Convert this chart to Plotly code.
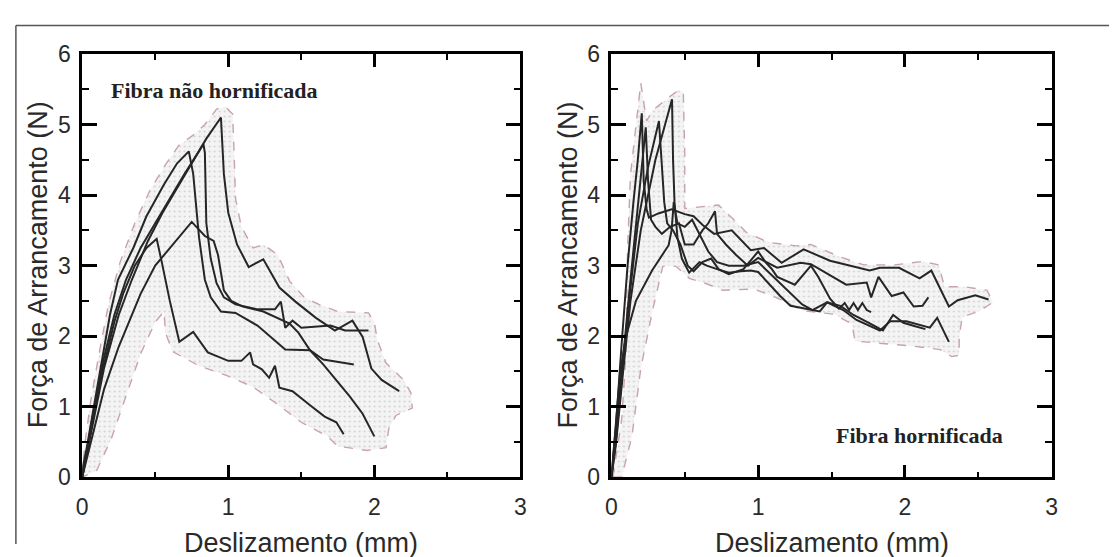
import plotly.graph_objects as go

W, H = 1115, 557

# ---------------- Left panel: Fibra não hornificada ----------------
L1_x = [0, 0.03, 0.08, 0.14, 0.19, 0.245, 0.35, 0.44, 0.56, 0.65, 0.73, 0.76, 0.80, 0.84, 0.88, 0.95, 1.05, 1.2, 1.31, 1.39, 1.56, 1.65, 1.86]
L1_y = [0.1, 0.4, 1.0, 1.7, 2.3, 2.8, 3.25, 3.7, 4.15, 4.45, 4.62, 4.3, 3.4, 2.8, 2.55, 2.35, 2.33, 2.15, 1.95, 1.81, 1.8, 1.67, 1.6]

L2_x = [0, 0.03, 0.08, 0.15, 0.22, 0.3, 0.4, 0.5, 0.6, 0.7, 0.83, 0.84, 0.85, 0.88, 0.92, 0.97, 1.05, 1.2, 1.32, 1.36, 1.39, 1.44, 1.5, 1.7, 1.8, 1.96]
L2_y = [0, 0.35, 0.95, 1.7, 2.3, 2.8, 3.25, 3.6, 3.95, 4.3, 4.72, 4.6, 3.6, 3.1, 2.75, 2.55, 2.45, 2.38, 2.38, 2.49, 2.12, 2.22, 2.12, 2.15, 2.08, 2.08]

L3_x = [0, 0.03, 0.08, 0.15, 0.25, 0.34, 0.45, 0.55, 0.65, 0.75, 0.85, 0.95, 0.97, 1.0, 1.06, 1.14, 1.24, 1.35, 1.46, 1.6, 1.73, 1.85, 1.92, 1.98, 2.05, 2.17]
L3_y = [0, 0.3, 0.85, 1.55, 2.3, 2.8, 3.35, 3.75, 4.1, 4.45, 4.8, 5.1, 4.3, 3.75, 3.3, 2.98, 3.09, 2.69, 2.49, 2.26, 2.08, 2.22, 1.99, 1.54, 1.38, 1.22]

L4_x = [0, 0.03, 0.08, 0.15, 0.25, 0.3, 0.4, 0.5, 0.6, 0.75, 0.84, 0.9, 0.93, 0.97, 1.02, 1.1, 1.24, 1.35, 1.42, 1.48, 1.56, 1.65, 1.72, 1.83, 1.92, 2.0]
L4_y = [0, 0.25, 0.7, 1.25, 1.85, 2.1, 2.6, 3.0, 3.25, 3.62, 3.42, 3.35, 3.15, 2.65, 2.5, 2.42, 2.35, 2.25, 2.18, 2.05, 1.8, 1.6, 1.42, 1.15, 0.9, 0.58]

L5_x = [0, 0.03, 0.08, 0.15, 0.22, 0.28, 0.36, 0.44, 0.51, 0.545, 0.6, 0.665, 0.76, 0.86, 1.0, 1.09, 1.15, 1.17, 1.23, 1.28, 1.32, 1.35, 1.44, 1.56, 1.66, 1.74, 1.79]
L5_y = [0, 0.35, 0.9, 1.6, 2.2, 2.6, 3.0, 3.25, 3.38, 3.05, 2.5, 1.92, 2.06, 1.77, 1.65, 1.65, 1.77, 1.6, 1.53, 1.41, 1.58, 1.27, 1.22, 1.02, 0.86, 0.78, 0.61]

L_env_x = [0.0, 0.0, 0.02, 0.06, 0.12, 0.18, 0.26, 0.36, 0.46, 0.56, 0.66, 0.76, 0.84, 0.92, 0.98, 1.03, 1.04, 1.05, 1.09, 1.17, 1.24, 1.34, 1.42, 1.52, 1.62, 1.75, 1.96, 2.0, 2.02, 2.08, 2.2, 2.25, 2.26, 2.15, 2.1, 2.08, 1.95, 1.75, 1.68, 1.5, 1.32, 1.17, 0.98, 0.8, 0.62, 0.57, 0.56, 0.5, 0.4, 0.3, 0.2, 0.1, 0.0]
L_env_y = [0.0, 0.05, 0.5, 1.1, 1.8, 2.45, 3.05, 3.6, 4.05, 4.4, 4.7, 4.85, 5.0, 5.22, 5.25, 5.15, 4.6, 3.95, 3.55, 3.25, 3.3, 3.15, 2.78, 2.55, 2.45, 2.35, 2.33, 2.2, 1.95, 1.62, 1.38, 1.2, 0.98, 0.88, 0.7, 0.42, 0.38, 0.44, 0.58, 0.78, 1.06, 1.28, 1.45, 1.58, 1.78, 2.05, 2.35, 2.2, 1.75, 1.15, 0.55, 0.1, 0.0]

# ---------------- Right panel: Fibra hornificada ----------------
R1_x = [0, 0.03, 0.07, 0.11, 0.15, 0.18, 0.207, 0.22, 0.24, 0.256, 0.32, 0.41, 0.5, 0.56, 0.62, 0.7, 0.82, 0.95, 1.04, 1.16, 1.31, 1.49, 1.76, 1.83, 1.96, 2.1, 2.18, 2.3, 2.36, 2.48, 2.57]
R1_y = [0, 0.7, 1.9, 3.0, 3.9, 4.5, 5.16, 4.2, 3.8, 3.68, 3.74, 3.8, 3.73, 3.7, 3.58, 3.45, 3.5, 3.22, 3.25, 3.04, 3.23, 3.07, 2.93, 2.97, 2.97, 2.82, 2.93, 2.42, 2.51, 2.58, 2.52]

R2_x = [0, 0.03, 0.08, 0.13, 0.18, 0.234, 0.25, 0.27, 0.3, 0.344, 0.4, 0.46, 0.5, 0.56, 0.62, 0.66, 0.706, 0.72, 0.78, 0.85, 0.93, 1.0, 1.13, 1.29, 1.36, 1.52, 1.6, 1.74, 1.77, 1.82, 1.91, 1.99, 2.06, 2.12, 2.16]
R2_y = [0, 0.6, 1.7, 2.8, 3.8, 4.96, 4.2, 3.65, 3.55, 3.45, 3.55, 3.6, 3.3, 3.3, 3.5, 3.6, 3.77, 3.45, 3.3, 3.15, 3.0, 3.11, 2.97, 3.04, 3.02, 2.82, 2.73, 2.76, 2.55, 2.84, 2.57, 2.62, 2.42, 2.43, 2.55]

R3_x = [0, 0.03, 0.07, 0.12, 0.18, 0.25, 0.324, 0.34, 0.36, 0.38, 0.42, 0.47, 0.52, 0.56, 0.62, 0.68, 0.73, 0.8, 0.9, 1.0, 1.05, 1.09, 1.13, 1.25, 1.36, 1.41, 1.49, 1.55, 1.59, 1.62, 1.65, 1.68, 1.71, 1.74, 1.77]
R3_y = [0, 0.5, 1.4, 2.5, 3.6, 4.4, 5.05, 4.5, 3.9, 3.6, 3.5, 3.3, 3.0, 2.92, 3.05, 3.1, 2.95, 2.88, 2.95, 3.2, 3.05, 2.96, 2.84, 2.73, 3.0, 2.84, 2.53, 2.39, 2.47, 2.37, 2.47, 2.37, 2.47, 2.37, 2.34]

R4_x = [0, 0.03, 0.08, 0.13, 0.2, 0.3, 0.413, 0.42, 0.43, 0.45, 0.48, 0.53, 0.6, 0.65, 0.72, 0.8, 0.88, 0.95, 1.0, 1.09, 1.15, 1.22, 1.31, 1.42, 1.47, 1.58, 1.67, 1.83, 1.9, 2.01, 2.17, 2.22, 2.3]
R4_y = [0, 0.45, 1.5, 2.5, 3.5, 4.5, 5.36, 4.5, 3.9, 3.4, 3.1, 2.9, 3.05, 3.0, 2.95, 2.9, 2.92, 2.93, 2.91, 2.71, 2.57, 2.43, 2.39, 2.35, 2.48, 2.37, 2.23, 2.08, 2.21, 2.21, 2.12, 2.26, 1.92]

R5_x = [0, 0.03, 0.06, 0.1, 0.167, 0.277, 0.39, 0.41, 0.425, 0.45, 0.5, 0.55, 0.6, 0.66, 0.72, 0.8, 0.9, 1.0, 1.1, 1.2, 1.3, 1.37, 1.47, 1.56, 1.65, 1.79, 1.85, 1.92, 1.99, 2.07, 2.14]
R5_y = [0, 0.8, 1.5, 2.0, 2.5, 2.93, 3.29, 3.5, 3.9, 3.6, 3.55, 3.65, 3.45, 3.2, 3.05, 3.0, 3.0, 3.05, 2.85, 2.65, 2.45, 2.37, 2.48, 2.43, 2.3, 2.15, 2.08, 2.3, 2.19, 2.14, 2.1]

R_env_x = [0.01, 0.07, 0.1, 0.11, 0.13, 0.19, 0.2, 0.24, 0.28, 0.4, 0.46, 0.49, 0.5, 0.5, 0.61, 0.73, 0.83, 0.92, 1.07, 1.26, 1.36, 1.55, 1.72, 1.93, 2.12, 2.23, 2.27, 2.41, 2.56, 2.6, 2.51, 2.39, 2.37, 2.37, 2.32, 2.24, 2.05, 1.79, 1.66, 1.64, 1.52, 1.31, 1.12, 0.97, 0.76, 0.64, 0.53, 0.44, 0.35, 0.28, 0.2, 0.14, 0.07, 0.01]
R_env_y = [0.0, 0.82, 1.78, 3.23, 4.29, 5.49, 5.59, 5.05, 5.2, 5.4, 5.49, 5.45, 4.58, 3.81, 3.83, 3.86, 3.66, 3.47, 3.33, 3.28, 3.3, 3.13, 3.01, 3.01, 3.06, 3.01, 2.7, 2.7, 2.65, 2.48, 2.36, 2.27, 1.98, 1.73, 1.71, 1.81, 1.86, 1.9, 1.93, 2.17, 2.31, 2.36, 2.55, 2.67, 2.65, 2.75, 2.82, 2.99, 2.99, 2.36, 1.54, 0.58, 0.0, 0.0]

x_ticks = [0, 1, 2, 3]
y_ticks = [0, 1, 2, 3, 4, 5, 6]
x_title = "Deslizamento (mm)"
y_title = "Força de Arrancamento (N)"
label_left = "Fibra não hornificada"
label_right = "Fibra hornificada"

fig = go.Figure()

line_style = dict(color="#262626", width=2)
env_style = dict(color="#c8a4a8", width=1.4, dash="dash")
pattern = dict(shape=".", bgcolor="#f4f4f4", fgcolor="#b0b0b0", size=5, solidity=0.15)

fig.add_trace(go.Scatter(x=L_env_x, y=L_env_y, mode="lines", fill="toself",
                         fillcolor="#f4f4f4", fillpattern=pattern, line=env_style,
                         xaxis="x", yaxis="y", showlegend=False, hoverinfo="skip"))
for xs, ys in [(L1_x, L1_y), (L2_x, L2_y), (L3_x, L3_y), (L4_x, L4_y), (L5_x, L5_y)]:
    fig.add_trace(go.Scatter(x=xs, y=ys, mode="lines", line=line_style,
                             xaxis="x", yaxis="y", showlegend=False))

fig.add_trace(go.Scatter(x=R_env_x, y=R_env_y, mode="lines", fill="toself",
                         fillcolor="#f4f4f4", fillpattern=pattern, line=env_style,
                         xaxis="x2", yaxis="y2", showlegend=False, hoverinfo="skip"))
for xs, ys in [(R1_x, R1_y), (R2_x, R2_y), (R3_x, R3_y), (R4_x, R4_y), (R5_x, R5_y)]:
    fig.add_trace(go.Scatter(x=xs, y=ys, mode="lines", line=line_style,
                             xaxis="x2", yaxis="y2", showlegend=False))

tick_font = dict(family="Liberation Sans, Arial, sans-serif", size=23, color="#2a2a2a")


def xaxis(domain, anchor):
    return dict(domain=domain, anchor=anchor, range=[0, 3], tickvals=x_ticks,
                showgrid=False, zeroline=False, showline=True, linecolor="black",
                linewidth=2.5, mirror="ticks", ticks="inside", ticklen=13,
                tickwidth=2.5, tickcolor="black", tickfont=tick_font,
                ticklabelstandoff=7,
                minor=dict(ticks="inside", ticklen=6, tickwidth=2, tickcolor="black", dtick=0.5))


def yaxis(domain, anchor):
    return dict(domain=domain, anchor=anchor, range=[0, 6], tickvals=y_ticks,
                showgrid=False, zeroline=False, showline=True, linecolor="black",
                linewidth=2.5, mirror="ticks", ticks="inside", ticklen=15,
                tickwidth=2.5, tickcolor="black", tickfont=tick_font,
                ticklabelstandoff=4,
                minor=dict(ticks="inside", ticklen=7, tickwidth=2, tickcolor="black", dtick=0.5))


ydom = [1 - 487 / H, 1 - 43 / H]
fig.update_layout(
    width=W, height=H,
    margin=dict(l=0, r=0, t=0, b=0),
    paper_bgcolor="white", plot_bgcolor="white",
    xaxis=xaxis([77 / W, 520 / W], "y"),
    yaxis=yaxis(ydom, "x"),
    xaxis2=xaxis([612 / W, 1057 / W], "y2"),
    yaxis2=yaxis(ydom, "x2"),
    showlegend=False,
)

title_font = dict(family="Liberation Sans, Arial, sans-serif", size=27, color="#2a2a2a")
ann = []
ann.append(dict(x=(77 + 520) / 2 / W, y=-0.03, xref="paper", yref="paper",
                text=x_title, showarrow=False, font=title_font, xanchor="center", yanchor="bottom"))
ann.append(dict(x=(612 + 1057) / 2 / W, y=-0.03, xref="paper", yref="paper",
                text=x_title, showarrow=False, font=title_font, xanchor="center", yanchor="bottom"))
ann.append(dict(x=32 / W, y=1 - 264 / H, xref="paper", yref="paper", textangle=-90,
                text=y_title, showarrow=False, font=title_font, xanchor="center", yanchor="middle"))
ann.append(dict(x=568 / W, y=1 - 264 / H, xref="paper", yref="paper", textangle=-90,
                text=y_title, showarrow=False, font=title_font, xanchor="center", yanchor="middle"))
label_font = dict(family="Liberation Serif, Times New Roman, serif", size=22, color="#222222")
ann.append(dict(x=104 / W, y=1 - 81 / H, xref="paper", yref="paper", text="<b>" + label_left + "</b>",
                showarrow=False, font=label_font, xanchor="left", yanchor="middle"))
ann.append(dict(x=837 / W, y=1 - 443 / H, xref="paper", yref="paper", text="<b>" + label_right + "</b>",
                showarrow=False, font=label_font, xanchor="left", yanchor="middle"))
fig.update_layout(annotations=ann)

# outer frame (top and left edges)
fig.add_shape(type="line", xref="paper", yref="paper", x0=10 / W, x1=1, y0=1 - 13 / H, y1=1 - 13 / H,
              line=dict(color="#555555", width=1.5))
fig.add_shape(type="line", xref="paper", yref="paper", x0=10 / W, x1=10 / W, y0=0, y1=1 - 13 / H,
              line=dict(color="#555555", width=1.5))

fig.write_html("out.html")
